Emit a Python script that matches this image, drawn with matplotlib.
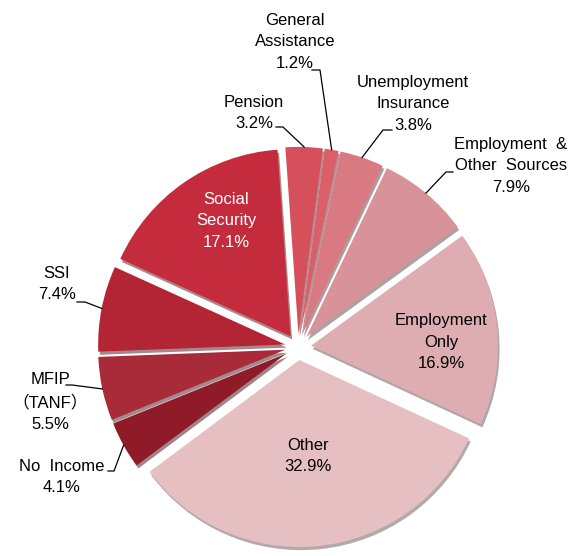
import numpy as np
import matplotlib

matplotlib.use("Agg")
import matplotlib.pyplot as plt

plt.rcParams["font.family"] = ["Liberation Sans", "Noto Sans CJK SC", "DejaVu Sans"]

# clockwise from the top
names = [
    "Pension",
    "General\nAssistance",
    "Unemployment\nInsurance",
    "Employment  &\nOther  Sources",
    "Employment\nOnly",
    "Other",
    "No  Income",
    "MFIP\n（TANF）",
    "SSI",
    "Social\nSecurity",
]
shares = [3.2, 1.2, 3.8, 7.9, 16.9, 32.9, 4.1, 5.5, 7.4, 17.1]
colors = [
    "#d6505c", "#da5f69", "#d97a83", "#d8939a", "#ddadb2",
    "#e6bfc2", "#8f1b29", "#a82b39", "#b32434", "#c42c3d",
]
text_colors = ["black"] * 9 + ["white"]

W, H = 571, 556
CX, CY, R = 298, 347, 187  # pie centre / radius in pixels
EXPLODE = 0.07


def px(x, y):
    return (x - CX) / R, (CY - y) / R


# label layout in pixels: (text centre, leader points from text towards slice)
layout = [
    ((254, 113), [(276, 127), (283, 127)]),
    ((295, 42), [(312, 70), (320, 70)]),
    ((413, 104), [(392, 130), (383, 130)]),
    ((511, 166), [(453, 172), (446, 172)]),
    ((441, 342), None),
    ((308, 456), None),
    ((62, 477), [(108, 471), (114, 471)]),
    ((50, 402), [(66, 385), (72, 385)]),
    ((57, 284), [(77, 302), (85, 302)]),
    ((226, 221), None),
]

fig = plt.figure(figsize=(W / 100, H / 100), dpi=100)
ax = fig.add_axes([0, 0, 1, 1])

wedges, _ = ax.pie(
    shares,
    colors=colors,
    startangle=94,
    counterclock=False,
    radius=1.0,
    explode=[EXPLODE] * len(shares),
    wedgeprops=dict(linewidth=0),
    shadow=dict(ox=0.006, oy=-0.012, shade=0.55),
)
ax.set_xlim(-CX / R, (W - CX) / R)
ax.set_ylim((CY - H) / R, CY / R)
ax.set_aspect("auto")
ax.axis("off")

for w, name, val, tc, (pos, leader) in zip(wedges, names, shares, text_colors, layout):
    label = f"{name}\n{val:.1f}%"
    ax.text(*px(*pos), label, ha="center", va="center", fontsize=12,
            color=tc, linespacing=1.55)
    if leader is None:
        continue
    mid = np.deg2rad((w.theta1 + w.theta2) / 2)
    cx, cy = w.center
    tip = (cx + np.cos(mid), cy + np.sin(mid))
    pts = [px(*p) for p in leader] + [tip]
    xs, ys = zip(*pts)
    ax.plot(xs, ys, color="black", linewidth=0.9)

fig.savefig("out.png", dpi=100)
